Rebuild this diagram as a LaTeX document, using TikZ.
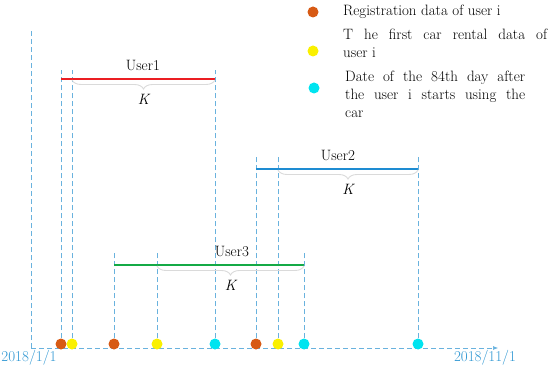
\documentclass[tikz,border=0pt]{standalone}
\usetikzlibrary{arrows.meta,positioning,decorations.pathreplacing}
\definecolor{axisblue}{RGB}{105,178,222}
\definecolor{datetext}{RGB}{45,150,210}
\definecolor{userred}{RGB}{235,30,35}
\definecolor{userblue}{RGB}{30,140,210}
\definecolor{usergreen}{RGB}{20,170,70}
\definecolor{regorange}{RGB}{215,90,20}
\definecolor{rentyellow}{RGB}{250,240,0}
\definecolor{fincyan}{RGB}{0,228,240}
\definecolor{bracegray}{RGB}{218,218,218}
\tikzset{
  evdot/.style={circle,inner sep=0pt,minimum size=11pt,fill=#1},
  guide/.style={axisblue,line width=0.6pt,dash pattern=on 5pt off 3pt},
  period/.style={line width=1.6pt},
  kbrace/.style={decorate,decoration={brace,mirror,amplitude=9pt},draw=bracegray,line width=0.9pt},
  lbl/.style={font=\fontsize{15}{18}\selectfont,inner sep=0pt},
}
\begin{document}
\begin{tikzpicture}[x=1pt,y=-1pt]
  \useasboundingbox (0,0) rectangle (550,369);
  % time axis
  \coordinate (origin) at (31,348);
  \coordinate (axtop) at (31,29);
  \coordinate (axend) at (498,348);
  \draw[guide] (origin) -- (axtop);
  \draw[guide,-{Latex[length=5pt,width=4pt]}] (origin) -- (axend);
  \node[lbl,text=datetext] (dstart) at (29,358) {2018/1/1};
  \node[lbl,text=datetext] (dend) at (485,358) {2018/11/1};
  % users: start, first rental, 84th day, line height, guide top, colour, label x
  \foreach \u/\reg/\rent/\fin/\ly/\gt/\c/\lx in {
      1/61/72/215/79/70/userred/143,
      2/256/278/418/169/155/userblue/338,
      3/114/157/304/265/253/usergreen/232}{
    \coordinate (gtop\u) at (0,\gt);
    \coordinate (line\u) at (0,\ly);
    \node[evdot=regorange] (reg\u) at (\reg,344) {};
    \node[evdot=rentyellow] (rent\u) at (\rent,344) {};
    \node[evdot=fincyan] (fin\u) at (\fin,344) {};
    \draw[guide] (reg\u.north) -- (reg\u |- gtop\u);
    \draw[guide] (rent\u.north) -- (rent\u |- gtop\u);
    \draw[guide] (fin\u.north) -- (fin\u |- gtop\u);
    \draw[period,\c] (reg\u |- line\u) -- (fin\u |- line\u);
    \draw[kbrace] ([yshift=-1pt]rent\u |- line\u) -- ([yshift=-1pt]fin\u |- line\u)
      node[midway,below=14pt,lbl,font=\fontsize{15}{18}\selectfont\itshape] (k\u) {K};
    \node[lbl] (user\u) at (\lx,\ly-14) {User\u};
  }
  % legend
  \node[evdot=regorange] (kreg) at (313,12) {};
  \node[lbl,anchor=west] (kregtxt) at (343,12) {Registration data of user i};
  \node[evdot=rentyellow] (krent) at (313,51) {};
  \node[lbl,anchor=west,align=left] (krenttxt) at (343,43.5)
    {\makebox[204pt][s]{T he first car rental data of}\\user i};
  \node[evdot=fincyan] (kfin) at (314,88) {};
  \node[lbl,anchor=west,align=left] (kfintxt) at (345,94)
    {\makebox[180pt][s]{Date of the 84th day after}\\
     \makebox[180pt][s]{the user i starts using the}\\car};
\end{tikzpicture}
\end{document}
